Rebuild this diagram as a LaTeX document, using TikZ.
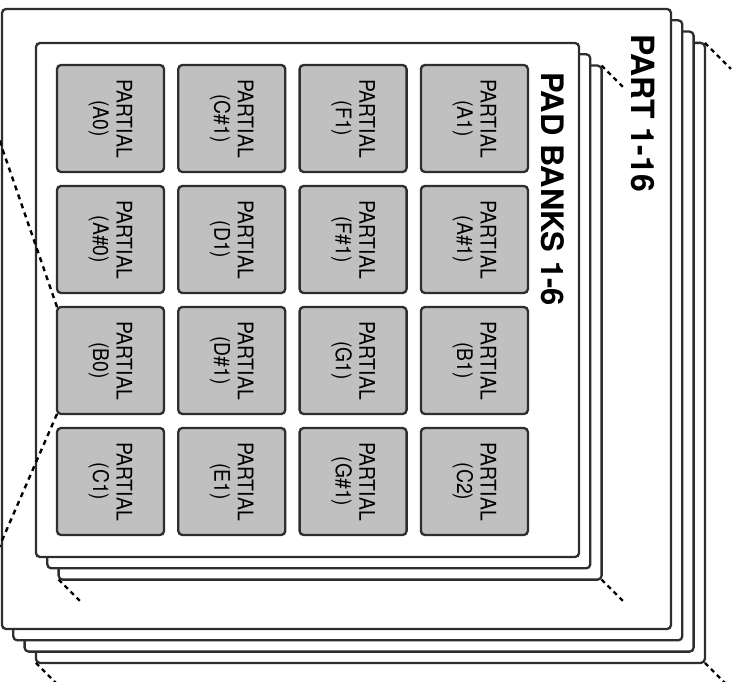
\documentclass[tikz,border=0pt]{standalone}
\usepackage{fontspec}
\setmainfont{TeX Gyre Heros}
\definecolor{linec}{HTML}{2E2E2E}
\definecolor{padgray}{HTML}{C0C0C0}
\begin{document}
\begin{tikzpicture}[x=1pt,y=-1pt,
  outercard/.style={draw=linec,line width=2.3pt,fill=white,rounded corners=4pt,
    minimum width=669pt,minimum height=620pt,inner sep=0pt,outer sep=0pt,anchor=north west},
  innercard/.style={draw=linec,line width=2.3pt,fill=white,rounded corners=4pt,
    minimum width=543pt,minimum height=514pt,inner sep=0pt,outer sep=0pt,anchor=north west},
  pad/.style={draw=linec,line width=2.3pt,fill=padgray,rounded corners=4pt,
    minimum width=107pt,minimum height=107pt,inner sep=0pt,outer sep=0pt},
  padtext/.style={rotate=-90,xscale=0.9,align=center,inner sep=0pt,font=\fontsize{21.5}{23.5}\selectfont},
  title/.style={rotate=-90,inner sep=0pt,font=\fontsize{#1}{34}\selectfont\bfseries},
  stackline/.style={draw=black,line width=2.4pt,dash pattern=on 4.5pt off 4pt},
  zoomline/.style={draw=black,line width=2.4pt,dash pattern=on 5pt off 4.5pt}]
\useasboundingbox (0,0) rectangle (737,682);
\clip (0,0) rectangle (737,682);
% outer stack (parts)
\node[outercard] (o4) at (35.9,42.9) {};
\node[outercard] (o3) at (24.6,31.6) {};
\node[outercard] (o2) at (13.3,20.3) {};
\node[outercard] (o1) at (2,9) {};
\draw[stackline] (o4.north east) -- ++(26,26);
\draw[stackline] (o4.south east) -- ++(26,26);
\draw[stackline] (o4.south west) -- ++(26,26);
\node[title=32] (parttitle) at (643.5,113) {PART 1-16};
% inner stack (pad banks)
\node[innercard] (i3) at (58.6,65.6) {};
\node[innercard] (i2) at (47.3,54.3) {};
\node[innercard] (i1) at (36,43) {};
\draw[stackline] (i3.north east) -- ++(23,23);
\draw[stackline] (i3.south east) -- ++(23,23);
\draw[stackline] (i3.south west) -- ++(23,23);
\node[title=31] (banktitle) at (552.5,189) {PAD BANKS 1-6};
% pads
\foreach \lab [count=\i from 0,
    evaluate=\i as \cx using {110.5+121.3*mod(\i,4)},
    evaluate=\i as \cy using {118.5+121*int(\i/4)}]
  in {A0,C\#1,F1,A1,A\#0,D1,F\#1,A\#1,B0,D\#1,G1,B1,C1,E1,G\#1,C2} {
  \node[pad] (pad\i) at (\cx,\cy) {};
  \node[padtext] (txt\i) at (pad\i.center) {PARTIAL\\(\lab)};
}
% zoom lines from pad B0
\coordinate (zl1) at (-10,113);
\coordinate (zl2) at (-10,568);
\draw[zoomline] (pad8.north west) -- (zl1);
\draw[zoomline] (pad8.south west) -- (zl2);
\end{tikzpicture}
\end{document}
